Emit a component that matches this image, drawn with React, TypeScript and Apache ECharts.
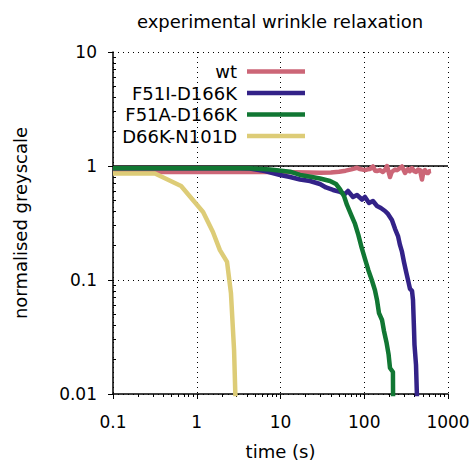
import React, { useEffect, useRef } from "react";
import * as echarts from "echarts";

const seriesNames = ["wt", "F51I-D166K", "F51A-D166K", "D66K-N101D"];
const seriesColors = ["#CC6677", "#332288", "#117733", "#DDCC77"];

const wtTime = [0.1, 1, 5, 10, 15, 22, 30, 40, 50, 60, 70, 82, 89, 96, 102, 110, 117, 127, 135, 142, 154, 167, 178, 187, 203, 212, 220, 233, 246, 262, 282, 307, 320, 333, 350, 372, 395, 415, 440, 463, 489, 510, 531, 555, 577, 600, 627];
const wtValue = [0.886, 0.886, 0.886, 0.884, 0.88, 0.876, 0.873, 0.878, 0.89, 0.91, 0.935, 0.965, 0.94, 0.93, 0.92, 0.935, 0.94, 0.99, 0.91, 0.904, 0.92, 0.886, 0.93, 1.0, 0.80, 0.88, 0.904, 0.93, 0.92, 0.95, 0.99, 0.868, 0.91, 0.94, 0.9, 0.96, 0.9, 0.886, 0.93, 0.92, 0.76, 0.9, 0.92, 0.87, 0.868, 0.9, 0.904];

const f51iTime = [0.1, 3.3, 4.3, 6.5, 9.9, 13, 17.1, 22.5, 29.6, 34.9, 42.4, 51.3, 58.9, 63.9, 73.4, 81.9, 94, 102, 114, 127, 142, 158, 177, 192, 214, 233, 253, 267, 282, 298, 316, 333, 352, 372, 382, 393, 398, 415, 427];
const f51iValue = [0.955, 0.955, 0.95, 0.904, 0.834, 0.8, 0.761, 0.739, 0.695, 0.648, 0.616, 0.592, 0.568, 0.604, 0.535, 0.557, 0.508, 0.535, 0.474, 0.493, 0.446, 0.428, 0.403, 0.38, 0.336, 0.281, 0.243, 0.203, 0.177, 0.144, 0.118, 0.1, 0.0834, 0.0802, 0.0668, 0.0365, 0.027, 0.018, 0.0089];

const f51aTime = [0.1, 4.33, 7.49, 13, 17.1, 23.8, 29.6, 39, 46, 51.3, 57.3, 62.2, 70.8, 77.6, 85, 93.3, 102, 112, 123, 134, 142, 150, 163, 172, 185, 195, 203, 220, 221];
const f51aValue = [0.955, 0.955, 0.932, 0.891, 0.835, 0.8, 0.777, 0.739, 0.695, 0.628, 0.545, 0.455, 0.364, 0.31, 0.249, 0.191, 0.153, 0.122, 0.1, 0.0817, 0.0668, 0.0513, 0.0446, 0.0357, 0.028, 0.0224, 0.0169, 0.0156, 0.0088];

const d66kTime = [0.1, 0.317, 0.65, 1.19, 1.56, 1.89, 2.3, 2.56, 2.79, 2.9];
const d66kValue = [0.86, 0.86, 0.668, 0.395, 0.264, 0.183, 0.144, 0.077, 0.0243, 0.009];

const xTickLabels = ["0.1", "1", "10", "100", "1000"];
const yTickLabels = ["0.01", "0.1", "1", "10"];

const titleText = "experimental wrinkle relaxation";
const xAxisName = "time (s)";
const yAxisName = "normalised greyscale";

const FONT = "DejaVu Sans";

function zip(t: number[], v: number[]) {
  return t.map((x, i) => [x, v[i]]);
}

function minorTicks(lo: number, hi: number) {
  const out: number[] = [];
  for (let d = lo; d < hi; d *= 10) {
    for (let k = 2; k <= 9; k++) out.push(Number((k * d).toPrecision(6)));
  }
  return out;
}

function labelFor(labels: string[]) {
  return (v: number) => {
    const s = labels.find((l) => Math.abs(Math.log10(Number(l)) - Math.log10(v)) < 1e-6);
    return s ?? "";
  };
}

export default function App() {
  const ref = useRef<HTMLDivElement>(null);
  useEffect(() => {
    document.body.style.margin = "0";
    if (!ref.current) return;
    const chart = echarts.init(ref.current, null, { renderer: "svg" });
    const times = [wtTime, f51iTime, f51aTime, d66kTime];
    const values = [wtValue, f51iValue, f51aValue, d66kValue];
    const legendCenters = [72, 93.5, 115, 136.5];
    const gridLine = { show: true, lineStyle: { color: "#000", width: 1, type: [1, 4] as any } };
    chart.setOption({
      animation: false,
      textStyle: { fontFamily: FONT },
      grid: { left: 113, right: 27, top: 52, bottom: 67, containLabel: false, outerBoundsMode: "none" },
      graphic: [
        {
          type: "text",
          x: 280,
          y: 21.5,
          style: { text: titleText, font: `18px "${FONT}"`, fill: "#000", textAlign: "center", textVerticalAlign: "middle" },
        },
      ],
      legend: seriesNames.map((n, i) => ({
        data: [n],
        orient: "vertical",
        align: "right",
        right: 170,
        top: legendCenters[i] - 9.5,
        icon: "rect",
        itemWidth: 58,
        itemHeight: 4.5,
        padding: 0,
        selectedMode: false,
        textStyle: { fontSize: 18, color: "#000", fontFamily: FONT, padding: [0, 5, 0, 0] },
      })),
      xAxis: [
        {
          type: "log",
          logBase: 10,
          min: 0.1,
          max: 1000,
          name: xAxisName,
          nameLocation: "middle",
          nameGap: 48,
          nameTextStyle: { fontSize: 18, color: "#000", fontFamily: FONT },
          axisLine: { show: true, lineStyle: { color: "#000", width: 1.5 } },
          axisTick: { show: true, length: 5, lineStyle: { color: "#000", width: 1 } },
          axisLabel: { fontSize: 17, color: "#000", margin: 19, formatter: labelFor(xTickLabels), fontFamily: FONT },
          splitLine: gridLine,
        },
        {
          type: "log",
          logBase: 10,
          min: 0.1,
          max: 1000,
          position: "bottom",
          axisLine: { show: false },
          axisLabel: { show: false },
          splitLine: { show: false },
          axisTick: { show: true, length: 3, customValues: minorTicks(0.1, 1000), lineStyle: { color: "#000", width: 1 } },
        },
      ],
      yAxis: [
        {
          type: "log",
          logBase: 10,
          min: 0.01,
          max: 10,
          name: yAxisName,
          nameLocation: "middle",
          nameGap: 84,
          nameTextStyle: { fontSize: 18, color: "#000", fontFamily: FONT },
          axisLine: { show: true, lineStyle: { color: "#000", width: 1.5 } },
          axisTick: { show: true, length: 5, lineStyle: { color: "#000", width: 1 } },
          axisLabel: { fontSize: 17, color: "#000", margin: 16, formatter: labelFor(yTickLabels), fontFamily: FONT },
          splitLine: gridLine,
        },
        {
          type: "log",
          logBase: 10,
          min: 0.01,
          max: 10,
          position: "left",
          axisLine: { show: false },
          axisLabel: { show: false },
          splitLine: { show: false },
          axisTick: { show: true, inside: true, length: 3, customValues: minorTicks(0.01, 10), lineStyle: { color: "#000", width: 1 } },
        },
      ],
      series: [
        {
          name: "unity",
          type: "line",
          data: [[0.1, 1], [1000, 1]],
          showSymbol: false,
          silent: true,
          z: 1,
          lineStyle: { color: "#000", width: 1.5 },
          itemStyle: { color: "#000" },
        },
        ...seriesNames.map((n, i) => ({
          name: n,
          type: "line",
          data: zip(times[i], values[i]),
          showSymbol: false,
          clip: true,
          z: 2 + i,
          lineStyle: { color: seriesColors[i], width: 4.5, join: "round" },
          itemStyle: { color: seriesColors[i] },
        })),
      ],
    });
    return () => chart.dispose();
  }, []);
  return <div ref={ref} style={{ width: 475, height: 461 }} />;
}
